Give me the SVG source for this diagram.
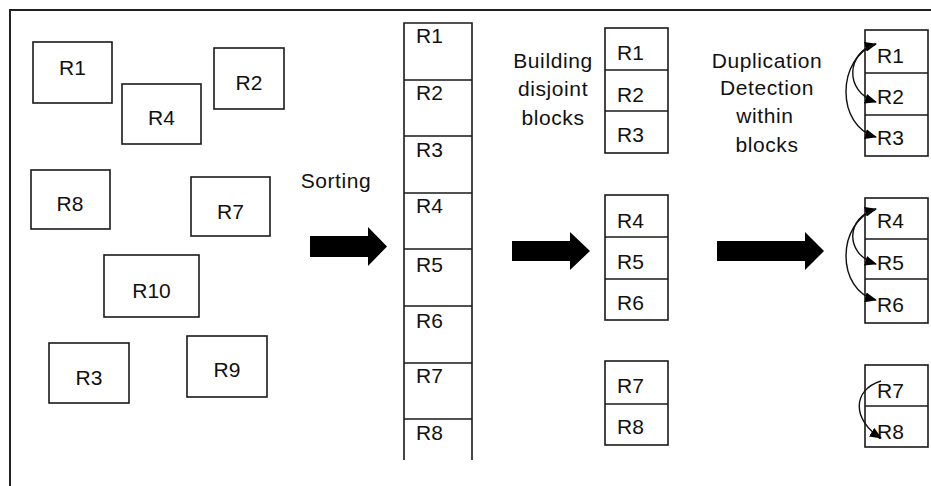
<svg xmlns="http://www.w3.org/2000/svg" width="931" height="486" viewBox="0 0 931 486">
<defs>
<style>
.b{fill:#fff;stroke:#1a1a1a;stroke-width:1.6}
.l{fill:none;stroke:#1a1a1a;stroke-width:1.6}
.t{font-family:"Liberation Sans",Arial,sans-serif;font-size:21px;fill:#111}
.c{text-anchor:middle}
.w{letter-spacing:0.6px}
.big{fill:#000;stroke:none}
.cv{fill:none;stroke:#111;stroke-width:1.4}
</style>
<marker id="ah" viewBox="0 0 12 10" refX="11" refY="5" markerWidth="12" markerHeight="10" markerUnits="userSpaceOnUse" orient="auto-start-reverse">
<path d="M0,0 L12,5 L0,10 Z" fill="#000"/>
</marker>
</defs>
<rect width="931" height="486" fill="#fff"/>
<path d="M10,486 V10 H931" fill="none" stroke="#222" stroke-width="2"/>

<g id="unsorted">
<g id="u-R1"><rect class="b" x="33" y="42" width="79" height="61"/><text class="t c" x="72.5" y="75">R1</text></g>
<g id="u-R2"><rect class="b" x="214" y="48" width="70" height="61"/><text class="t c" x="249" y="90">R2</text></g>
<g id="u-R4"><rect class="b" x="122" y="84" width="79" height="60"/><text class="t c" x="161.5" y="125">R4</text></g>
<g id="u-R8"><rect class="b" x="31" y="170" width="79" height="59"/><text class="t c" x="70" y="211">R8</text></g>
<g id="u-R7"><rect class="b" x="191" y="177" width="79" height="59"/><text class="t c" x="230.5" y="219">R7</text></g>
<g id="u-R10"><rect class="b" x="104" y="255" width="95" height="62"/><text class="t c" x="151.5" y="298">R10</text></g>
<g id="u-R3"><rect class="b" x="49" y="343" width="80" height="60"/><text class="t c" x="89" y="385">R3</text></g>
<g id="u-R9"><rect class="b" x="187" y="336" width="80" height="61"/><text class="t c" x="227" y="377">R9</text></g>
</g>

<g id="sorted">
<path class="l" d="M404,460 V23 H472 V460 M404,80 H472 M404,136 H472 M404,193 H472 M404,249 H472 M404,306 H472 M404,363 H472 M404,419 H472"/>
<text class="t" x="416" y="43">R1</text>
<text class="t" x="416" y="100">R2</text>
<text class="t" x="416" y="157">R3</text>
<text class="t" x="416" y="213">R4</text>
<text class="t" x="416" y="272">R5</text>
<text class="t" x="416" y="328">R6</text>
<text class="t" x="416" y="383">R7</text>
<text class="t" x="416" y="440">R8</text>
</g>

<g id="blocks">
<g id="blk1"><rect class="b" x="605" y="28" width="63" height="125"/><path class="l" d="M605,70 H668 M605,111 H668"/>
<text class="t" x="617" y="60">R1</text><text class="t" x="617" y="102">R2</text><text class="t" x="617" y="142">R3</text></g>
<g id="blk2"><rect class="b" x="605" y="195" width="63" height="125"/><path class="l" d="M605,237 H668 M605,279 H668"/>
<text class="t" x="617" y="228">R4</text><text class="t" x="617" y="269">R5</text><text class="t" x="617" y="310">R6</text></g>
<g id="blk3"><rect class="b" x="605" y="361" width="63" height="84"/><path class="l" d="M605,404 H668"/>
<text class="t" x="617" y="393">R7</text><text class="t" x="617" y="434">R8</text></g>
</g>

<g id="dedup">
<g id="dd1"><rect class="b" x="865" y="30" width="63" height="126"/><path class="l" d="M865,73 H928 M865,115 H928"/>
<text class="t" x="877" y="63">R1</text><text class="t" x="877" y="104">R2</text><text class="t" x="877" y="145">R3</text></g>
<g id="dd2"><rect class="b" x="865" y="198" width="63" height="125"/><path class="l" d="M865,239 H928 M865,279 H928"/>
<text class="t" x="877" y="228">R4</text><text class="t" x="877" y="270">R5</text><text class="t" x="877" y="312">R6</text></g>
<g id="dd3"><rect class="b" x="865" y="365" width="63" height="82"/><path class="l" d="M865,406 H928"/>
<text class="t" x="877" y="398">R7</text><text class="t" x="877" y="439">R8</text></g>
</g>

<g id="labels">
<text class="t c w" x="336" y="188">Sorting</text>
<text class="t c w" x="553" y="68">Building</text>
<text class="t c w" x="553" y="96">disjoint</text>
<text class="t c w" x="553" y="125">blocks</text>
<text class="t c w" x="767" y="68">Duplication</text>
<text class="t c w" x="767" y="95">Detection</text>
<text class="t c w" x="765" y="123">within</text>
<text class="t c w" x="767" y="152">blocks</text>
</g>

<g id="connectors">
<polygon class="big" points="310,236 368,236 368,227 387,246.5 368,266 368,257 310,257"/>
<polygon class="big" points="512,241 570,241 570,232 590,251 570,270 570,261 512,261"/>
<polygon class="big" points="717,241 805,241 805,232 824,251 805,270 805,261 717,261"/>
<path class="cv" d="M876,44 C846,52 844,92 876,102" marker-start="url(#ah)" marker-end="url(#ah)"/>
<path class="cv" d="M876,44 C836,58 836,126 876,137" marker-end="url(#ah)"/>
<path class="cv" d="M876,209 C846,217 844,254 876,264" marker-start="url(#ah)" marker-end="url(#ah)"/>
<path class="cv" d="M876,209 C836,223 836,290 876,300" marker-end="url(#ah)"/>
<path class="cv" d="M881,381 C852,390 852,420 881,438" marker-end="url(#ah)"/>
</g>
</svg>
